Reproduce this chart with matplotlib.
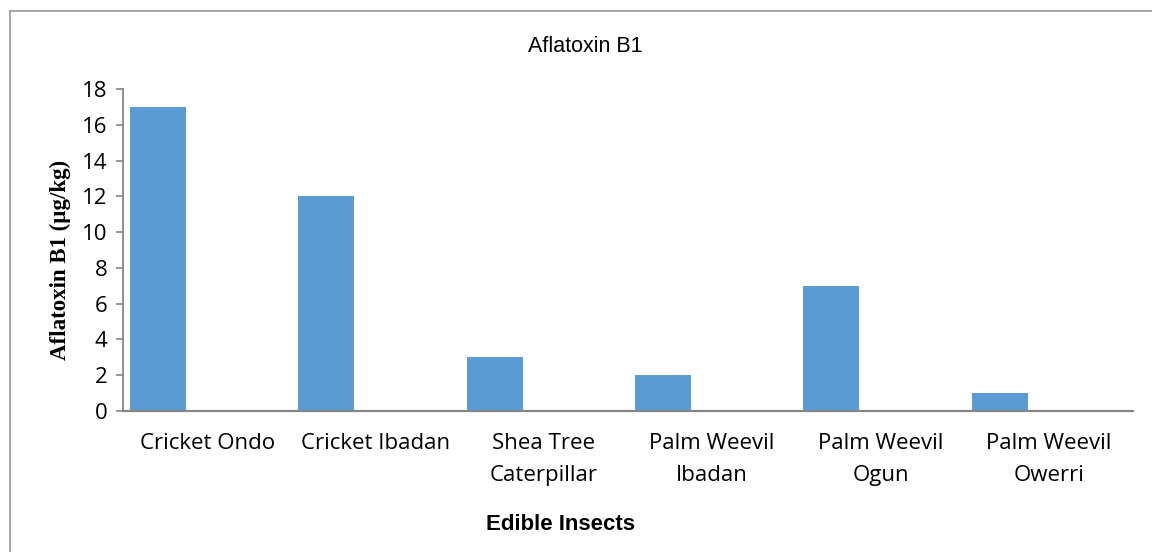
import matplotlib
matplotlib.use("Agg")
import matplotlib.pyplot as plt
from matplotlib.lines import Line2D
import numpy as np

# Aflatoxin B1 levels per insect sample (µg/kg)
categories = ["Cricket Ondo", "Cricket Ibadan", "Shea Tree\nCaterpillar",
              "Palm Weevil\nIbadan", "Palm Weevil\nOgun", "Palm Weevil\nOwerri"]
afb1 = [17, 12, 3, 2, 7, 1]
y_ticks = [0, 2, 4, 6, 8, 10, 12, 14, 16, 18]

W, H = 1152, 552
fig = plt.figure(figsize=(W / 100, H / 100), dpi=100)
fig.patch.set_facecolor("white")

# plot area in pixel terms
left, right, top, bottom = 123, 1133, 89, 411
ax = fig.add_axes([left / W, 1 - bottom / H, (right - left) / W, (bottom - top) / H])

x = np.arange(len(categories))
bar_w = 0.333
# bars sit at the left side of each category slot
ax.bar(x - 0.5 + 0.042, afb1, width=bar_w, align="edge", color="#5B9BD5", zorder=2)

ax.set_xlim(-0.5, len(categories) - 0.5)
ax.set_ylim(0, 18)
ax.set_yticks(y_ticks)
ax.set_yticklabels([str(v) for v in y_ticks], family="Open Sans", fontsize=16)
ax.set_xticks(x)
ax.set_xticklabels(categories, family="Open Sans", fontsize=16, linespacing=1.65)

for side in ("top", "right"):
    ax.spines[side].set_visible(False)
axis_grey = "#868686"
ax.spines["left"].set_color(axis_grey)
ax.spines["bottom"].set_color(axis_grey)
ax.spines["left"].set_linewidth(1.3)
ax.spines["bottom"].set_linewidth(1.6)
ax.tick_params(axis="y", direction="out", length=5, width=1.2, color=axis_grey, pad=6)
ax.tick_params(axis="x", length=0, pad=16)

fig.text(585 / W, 1 - 46 / H, "Aflatoxin B1", family="Liberation Sans",
         fontsize=15.5, ha="center", va="center")
fig.text(560 / W, 1 - 525 / H, "Edible Insects", family="Liberation Sans",
         fontsize=16, fontweight="bold", ha="center", va="center")
fig.text(60 / W, 1 - 260 / H, "Aflatoxin B1 (µg/kg)", family="Liberation Serif",
         fontsize=16.5, fontweight="bold", rotation=90, ha="center", va="center")

# chart frame (top and left edges run off the canvas)
frame_grey = "#A6A6A6"
fig.add_artist(Line2D([9.5 / W, 1.01], [1 - 11 / H, 1 - 11 / H],
                      transform=fig.transFigure, color=frame_grey, lw=1.4))
fig.add_artist(Line2D([9.5 / W, 9.5 / W], [1 - 11 / H, -0.01],
                      transform=fig.transFigure, color=frame_grey, lw=1.4))

fig.savefig("out.png", dpi=100)
